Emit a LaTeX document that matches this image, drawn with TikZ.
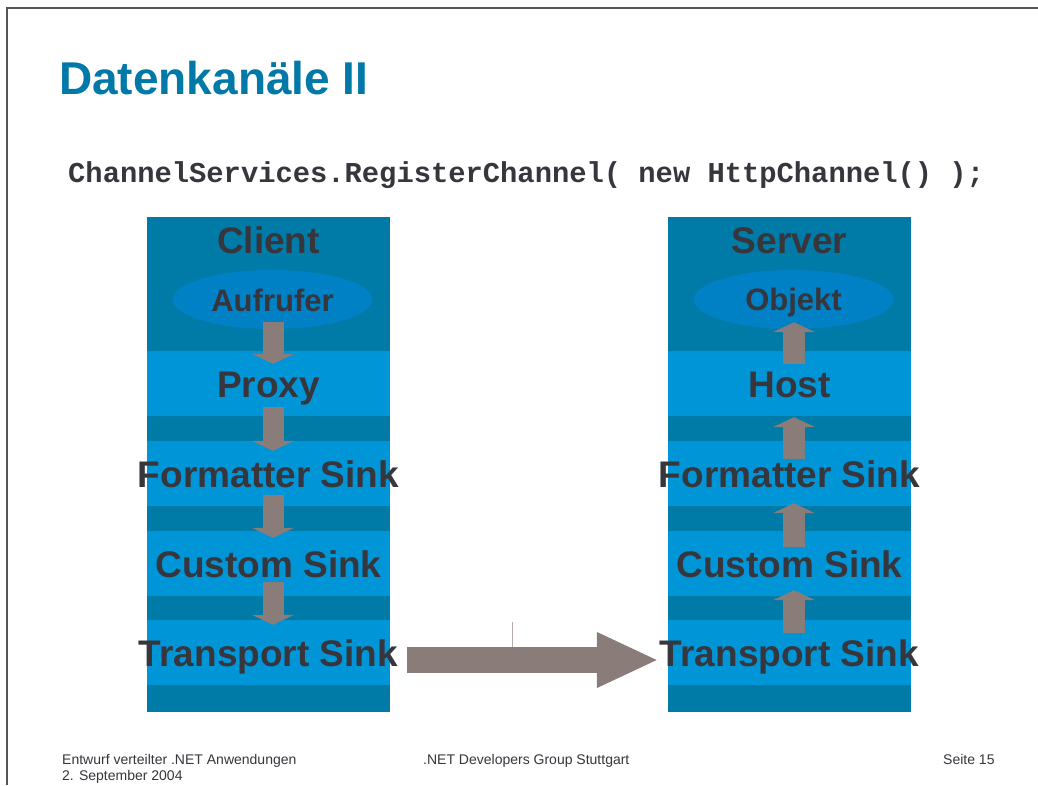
\documentclass[tikz,border=0pt]{standalone}
\usepackage{fontspec}
\setmainfont{Liberation Sans}
\setmonofont{Liberation Mono}
\usetikzlibrary{arrows.meta,calc,shapes.geometric}
\definecolor{coldark}{RGB}{0,122,166}
\definecolor{bandblue}{RGB}{0,149,215}
\definecolor{ellblue}{RGB}{0,128,197}
\definecolor{titlec}{RGB}{0,121,168}
\definecolor{arrowc}{RGB}{138,124,120}
\definecolor{txt}{RGB}{54,54,60}
\definecolor{framec}{RGB}{85,85,85}
\definecolor{tickc}{RGB}{185,170,170}
\begin{document}
\begin{tikzpicture}[x=1pt,y=-1pt,
  colbox/.style={fill=coldark, draw=none, minimum width=243pt, minimum height=495pt, inner sep=0pt},
  bandbox/.style={fill=bandblue, draw=none, minimum width=243pt, minimum height=65pt, inner sep=0pt},
  ellbox/.style={ellipse, fill=ellblue, draw=none, minimum width=200pt, minimum height=59pt, inner sep=0pt},
  lbl/.style={font=\fontsize{37}{40}\selectfont\bfseries, text=txt, anchor=base, inner sep=0pt},
  elbl/.style={font=\fontsize{31}{34}\selectfont\bfseries, text=txt, anchor=base, inner sep=0pt},
  blk/.style={draw=arrowc, line width=21pt, -{Triangle[width=42pt,length=10pt]}},
  big/.style={draw=arrowc, line width=26pt, -{Triangle[width=51pt,length=62pt]}},
  foot/.style={font=\fontsize{14}{16}\selectfont, text=txt, anchor=base west, inner sep=0pt},
]
\useasboundingbox (0,0) rectangle (1038,785);
\fill[white] (0,0) rectangle (1038,785);
% frame
\draw[framec, line width=1.5pt] (7,785) -- (7,8) -- (1038,8);

% title and code
\node[anchor=base west, inner sep=0pt, font=\fontsize{46}{50}\selectfont\bfseries, text=titlec] (title) at (59,94.5) {Datenkanäle II};
\node[anchor=base west, inner sep=0pt, font=\ttfamily\bfseries\fontsize{28.8}{32}\selectfont, text=txt] (code) at (68,182) {ChannelServices.RegisterChannel( new HttpChannel() );};

% columns
\node[colbox] (client) at (268.5,464.5) {};
\node[colbox] (server) at (789.5,464.5) {};
% bands
\node[bandbox] (lb1) at (268.5,383.5) {};
\node[bandbox] (lb2) at (268.5,473.5) {};
\node[bandbox] (lb3) at (268.5,563.5) {};
\node[bandbox] (lb4) at (268.5,652.5) {};
\node[bandbox] (rb1) at (789.5,383.5) {};
\node[bandbox] (rb2) at (789.5,473.5) {};
\node[bandbox] (rb3) at (789.5,563.5) {};
\node[bandbox] (rb4) at (789.5,652.5) {};
% ellipses
\node[ellbox] (aufrufer) at (272.5,299.5) {};
\node[ellbox] (objekt) at (793.5,299.5) {};

% down arrows (client)
\draw[blk] ($(aufrufer.south)+(0.5,-7)$) -- ($(lb1.north)+(4.5,13)$);
\draw[blk] ($(lb1.south)+(4.5,-9)$) -- ($(lb2.north)+(4.5,10)$);
\draw[blk] ($(lb2.south)+(4.5,-11)$) -- ($(lb3.north)+(4.5,7)$);
\draw[blk] ($(lb3.south)+(4.5,-14)$) -- ($(lb4.north)+(4.5,5)$);
% up arrows (server)
\draw[blk, line width=22pt] ($(rb1.north)+(4.5,13)$) -- ($(objekt.south)+(0.5,-7)$);
\draw[blk, line width=22pt] ($(rb2.north)+(4.5,18)$) -- ($(rb1.south)+(4.5,1)$);
\draw[blk, line width=22pt] ($(rb3.north)+(4.5,16)$) -- ($(rb2.south)+(4.5,-3)$);
\draw[blk, line width=22pt] ($(rb4.north)+(4.5,13)$) -- ($(rb3.south)+(4.5,-6)$);
% big transport arrow
\draw[big] ($(lb4.east)+(17,7.5)$) -- ($(rb4.west)+(-9,7.5)$);
\coordinate (tickTop) at (512.5,622);
\coordinate (tickBot) at (512.5,647);
\draw[tickc, line width=1pt] (tickTop) -- (tickBot);

% labels
\node[lbl] (clientl) at (268.5,253) {Client};
\node[elbl] (aufruferl) at (272.5,311) {Aufrufer};
\node[lbl] (proxy) at (268.5,397) {Proxy};
\node[lbl] (lfmt) at (268.5,487) {Formatter Sink};
\node[lbl] (lcus) at (268.5,577) {Custom Sink};
\node[lbl] (ltr) at (268.5,666.5) {Transport Sink};

\node[lbl] (serverl) at (789.5,253) {Server};
\node[elbl] (objektl) at (793.5,310) {Objekt};
\node[lbl] (host) at (789.5,397) {Host};
\node[lbl] (rfmt) at (789.5,487) {Formatter Sink};
\node[lbl] (rcus) at (789.5,577) {Custom Sink};
\node[lbl] (rtr) at (789.5,666.5) {Transport Sink};

% footer
\node[foot] (f1) at (62,764) {Entwurf verteilter .NET Anwendungen};
\node[foot] (f2) at (62,780) {2. September 2004};
\node[foot] (f3) at (423,764) {.NET Developers Group Stuttgart};
\node[foot] (f4) at (943,764) {Seite 15};
\end{tikzpicture}
\end{document}
